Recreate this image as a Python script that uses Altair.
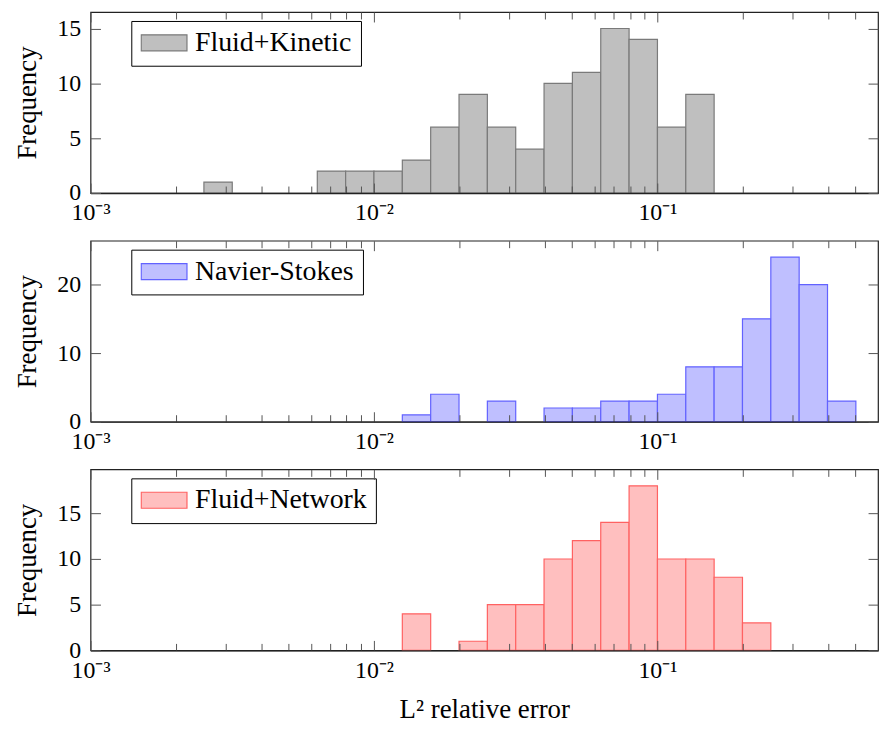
import altair as alt
import pandas as pd

# ---- data ----
bin_edges_log10 = [-2.6, -2.5, -2.4, -2.3, -2.2, -2.1, -2.0, -1.9, -1.8, -1.7, -1.6, -1.5,
                   -1.4, -1.3, -1.2, -1.1, -1.0, -0.9, -0.8, -0.7, -0.6, -0.5, -0.4, -0.3]
fluid_kinetic = [1, 0, 0, 0, 2, 2, 2, 3, 6, 9, 6, 4, 10, 11, 15, 14, 6, 9, 0, 0, 0, 0, 0]
navier_stokes = [0, 0, 0, 0, 0, 0, 0, 1, 4, 0, 3, 0, 2, 2, 3, 3, 4, 8, 8, 15, 24, 20, 3]
fluid_network = [0, 0, 0, 0, 0, 0, 0, 4, 0, 1, 5, 5, 10, 12, 14, 18, 10, 10, 8, 3, 0, 0, 0]

series_names = ["Fluid+Kinetic", "Navier-Stokes", "Fluid+Network"]
fills = ["#bfbfbf", "#bfbfff", "#ffbfbf"]
strokes = ["#7a7a7a", "#6262ff", "#ff6262"]
y_max = [16.5, 26.4, 19.8]
y_ticks = [[0, 5, 10, 15], [0, 10, 20], [0, 5, 10, 15]]

x_domain = [1e-3, 0.6]
major_ticks = [1e-3, 1e-2, 1e-1]
minor_ticks = [2e-3, 3e-3, 4e-3, 5e-3, 6e-3, 7e-3, 8e-3, 9e-3,
               2e-2, 3e-2, 4e-2, 5e-2, 6e-2, 7e-2, 8e-2, 9e-2,
               2e-1, 3e-1, 4e-1, 5e-1]

FONT = "Liberation Serif"
FS = 24
TFS = 27
W, H = 792, 182
MAJ, MIN = 10, 7
TICK_COLOR = "#555555"


def inner_axis(orient, values, size):
    return alt.Axis(orient=orient, values=values, offset=-size, tickSize=size, domain=False,
                    grid=False, labels=False, title=None, tickColor=TICK_COLOR,
                    minExtent=0, maxExtent=size, zindex=1)


def panel(name, counts, fill, stroke, ymax, yt, xtitle):
    rows = []
    for i, c in enumerate(counts):
        if c > 0:
            rows.append({"lo": 10 ** bin_edges_log10[i], "hi": 10 ** bin_edges_log10[i + 1],
                         "count": c, "series": name})
    df = pd.DataFrame(rows)
    base = alt.Chart(df)
    xs = alt.Scale(type="log", domain=x_domain, nice=False)
    ys = alt.Scale(domain=[0, ymax], nice=False, zero=True)

    bars = base.mark_bar(stroke=stroke, strokeWidth=1.2).encode(
        x=alt.X("lo:Q", scale=xs, axis=alt.Axis(
            orient="bottom", values=major_ticks, offset=-MAJ, tickSize=MAJ, domain=False,
            grid=False, tickColor=TICK_COLOR, labelPadding=8, labelFont=FONT, labelFontSize=FS,
            labelColor="black", labelFlush=False, minExtent=0,
            labelExpr="datum.value < 0.005 ? '10⁻³' : datum.value < 0.05 ? '10⁻²' : '10⁻¹'",
            title=xtitle if xtitle else None, titleFont=FONT, titleFontSize=TFS,
            titleFontWeight="normal", titleColor="black", titlePadding=15, zindex=1)),
        x2="hi:Q",
        y=alt.Y("count:Q", scale=ys, axis=alt.Axis(
            orient="left", values=yt, offset=-MAJ, tickSize=MAJ, domain=False, grid=False,
            tickColor=TICK_COLOR, labelPadding=10, labelFont=FONT, labelFontSize=FS,
            labelColor="black", labelFlush=False, title="Frequency", titleFont=FONT,
            titleFontSize=TFS, titleFontWeight="normal", titleColor="black",
            titlePadding=15, minExtent=0, zindex=1)),
        y2=alt.datum(0),
        color=alt.Color("series:N", scale=alt.Scale(domain=[name], range=[fill]),
                        legend=alt.Legend(
                            orient="none", legendX=41, legendY=9, title=None,
                            symbolType="M-1,-0.35H1V0.35H-1Z", symbolSize=2116,
                            symbolStrokeColor=stroke, symbolStrokeWidth=1.2,
                            symbolFillColor=fill, symbolOpacity=1, clipHeight=26,
                            labelFont=FONT, labelFontSize=28, labelColor="black",
                            labelLimit=400, labelOffset=7, padding=9,
                            strokeColor="black", fillColor="white", cornerRadius=0)),
    )

    def ghost(xaxis, yaxis):
        return base.mark_point(opacity=0, size=1).encode(
            x=alt.X("lo:Q", scale=xs, axis=xaxis),
            y=alt.Y("count:Q", scale=ys, axis=yaxis),
        )

    top_major = ghost(inner_axis("top", major_ticks, MAJ), inner_axis("right", yt, MAJ))
    bottom_minor = ghost(inner_axis("bottom", minor_ticks, MIN), None)
    top_minor = ghost(inner_axis("top", minor_ticks, MIN), None)
    frame_bottom = ghost(
        alt.Axis(orient="bottom", values=[], ticks=False, labels=False, domain=True,
                 domainColor="#222222", domainWidth=1.3, grid=False, title=None,
                 minExtent=0, maxExtent=0, zindex=1),
        None)

    return alt.layer(bars, top_major, bottom_minor, top_minor, frame_bottom).resolve_axis(
        x="independent", y="independent"
    ).properties(width=W, height=H)


p1 = panel(series_names[0], fluid_kinetic, fills[0], strokes[0], y_max[0], y_ticks[0], None)
p2 = panel(series_names[1], navier_stokes, fills[1], strokes[1], y_max[1], y_ticks[1], None)
p3 = panel(series_names[2], fluid_network, fills[2], strokes[2], y_max[2], y_ticks[2],
           "L² relative error")

chart = alt.vconcat(p1, p2, p3, spacing=13).resolve_scale(
    x="independent", y="independent", color="independent"
).properties(
    padding={"left": 5, "top": 0, "right": 0, "bottom": 0},
    background="white"
).configure_view(stroke="#222222", strokeWidth=1.2, fill="white")

chart.save("out.html", embed_options={"renderer": "svg", "actions": False})
